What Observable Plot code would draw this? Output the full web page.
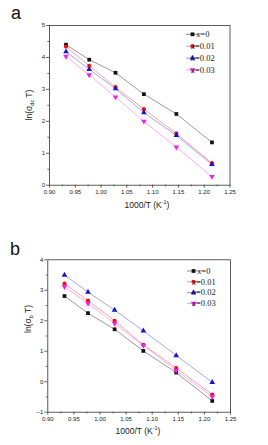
<!DOCTYPE html>
<html>
<head>
<meta charset="utf-8">
<script src="https://cdn.jsdelivr.net/npm/d3@7"></script>
<script src="https://cdn.jsdelivr.net/npm/@observablehq/plot@0.6"></script>
<style>
  html, body { margin: 0; padding: 0; background: #fff; }
  #page { position: relative; width: 268px; height: 445px; overflow: hidden; font-family: "Liberation Sans", Arial, sans-serif; }
  .panel { position: absolute; left: 0; }
  .tag { position: absolute; font-size: 18px; color: #111; line-height: 1; }
  .xtitle { position: absolute; font-size: 8.5px; color: #222; white-space: nowrap; transform: translateX(-50%); line-height: 1; }
  .ytitle { position: absolute; font-size: 8.5px; color: #222; white-space: nowrap; transform: translate(-50%, -50%) rotate(-90deg); line-height: 1; }
  sub, sup { font-size: 65%; line-height: 0; }
</style>
</head>
<body>
<div id="page"></div>
<script>
// 1000/T for T = 1073, 1023, 973, 923, 873, 823 K
const invT = [0.932, 0.977, 1.028, 1.083, 1.146, 1.215];
const series = ["x=0", "x=0.01", "x=0.02", "x=0.03"];

// (a) ln(σ_dc T)
const dcX0   = [4.40, 3.93, 3.52, 2.85, 2.23, 1.34];
const dcX001 = [4.34, 3.74, 3.07, 2.38, 1.62, 0.69];
const dcX002 = [4.18, 3.63, 3.02, 2.27, 1.56, 0.65];
const dcX003 = [4.03, 3.45, 2.76, 2.00, 1.19, 0.27];

// (b) ln(σ_b T)
const bX0   = [2.81, 2.25, 1.72, 1.01, 0.30, -0.63];
const bX001 = [3.22, 2.66, 2.00, 1.21, 0.45, -0.42];
const bX002 = [3.50, 2.94, 2.35, 1.67, 0.86, -0.02];
const bX003 = [3.12, 2.57, 1.91, 1.19, 0.37, -0.49];

const xTicks = [0.90, 0.95, 1.00, 1.05, 1.10, 1.15, 1.20, 1.25];
const xMinor = [0.925, 0.975, 1.025, 1.075, 1.125, 1.175, 1.225];
const yTicksA = [0, 1, 2, 3, 4, 5];
const yTicksB = [-1, 0, 1, 2, 3, 4];

const colors = ["#111111", "#ee1111", "#1515cc", "#ee22ee"];
const lineColors = ["#555555", "#f06a6a", "#6a6ae8", "#f07af0"];

// downward-pointing triangle symbol
const triangleDown = {
  draw(context, size) {
    const y = -Math.sqrt(size / (3 * Math.sqrt(3)));
    context.moveTo(0, -y * 2);
    context.lineTo(-Math.sqrt(3) * y, y);
    context.lineTo(Math.sqrt(3) * y, y);
    context.closePath();
  }
};
const symbols = [d3.symbolSquare, d3.symbolCircle, d3.symbolTriangle, triangleDown];

function rowsOf(valueSets) {
  return series.flatMap((s, i) => valueSets[i].map((v, j) => ({x: invT[j], y: v, s})));
}

function panel({rows, height, margins, yDomain, yTicks, yMinor}) {
  const svg = Plot.plot({
    width: 268,
    height,
    marginTop: margins[0], marginRight: margins[1], marginBottom: margins[2], marginLeft: margins[3],
    style: {fontFamily: "'Liberation Sans', Arial, sans-serif", fontSize: "6px", color: "#222", background: "transparent"},
    x: {domain: [0.9, 1.25]},
    y: {domain: yDomain},
    color: {domain: series, range: colors},
    marks: [
      Plot.axisX({ticks: xTicks, tickFormat: d3.format(".2f"), tickSize: 3, tickPadding: 1.5, label: null, strokeWidth: 0.7}),
      Plot.axisX({ticks: xMinor, tickFormat: () => "", tickSize: 1.6, label: null, strokeWidth: 0.7}),
      Plot.axisY({ticks: yTicks, tickFormat: d3.format("d"), tickSize: 3, tickPadding: 1.5, label: null, strokeWidth: 0.7}),
      Plot.axisY({ticks: yMinor, tickFormat: () => "", tickSize: 1.6, label: null, strokeWidth: 0.7}),
      Plot.line(rows, {x: "x", y: "y", z: "s", stroke: d => lineColors[series.indexOf(d.s)], strokeWidth: 0.6}),
      Plot.dot(rows, {x: "x", y: "y", fill: "s", stroke: "none", symbol: d => symbols[series.indexOf(d.s)], r: 2.1}),
      Plot.frame({stroke: "#333", strokeWidth: 0.8})
    ]
  });
  return svg;
}

function addLegend(svg, left, top, step) {
  const g = d3.select(svg).append("g").attr("class", "legend");
  series.forEach((s, i) => {
    const y = top + i * step;
    g.append("line").attr("x1", left).attr("x2", left + 13).attr("y1", y).attr("y2", y)
      .attr("stroke", lineColors[i]).attr("stroke-width", 0.7);
    g.append("path").attr("transform", `translate(${left + 6.5},${y})`)
      .attr("d", d3.symbol(symbols[i], 14)()).attr("fill", colors[i]);
    const t = g.append("text").attr("x", left + 17).attr("y", y).attr("dy", "0.33em")
      .attr("font-family", "'Liberation Serif', 'Times New Roman', serif").attr("font-size", 8.5).attr("fill", "#222");
    t.append("tspan").attr("font-style", "italic").text("x");
    t.append("tspan").text(s.slice(1));
  });
}

const page = document.getElementById("page");

// panel (a)
const svgA = panel({
  rows: rowsOf([dcX0, dcX001, dcX002, dcX003]),
  height: 220, margins: [25, 38.5, 35.3, 49],
  yDomain: [0, 5], yTicks: yTicksA, yMinor: [0.5, 1.5, 2.5, 3.5, 4.5]
});
addLegend(svgA, 186, 34.3, 11.9);
const wrapA = document.createElement("div");
wrapA.className = "panel"; wrapA.style.top = "0px";
wrapA.appendChild(svgA);
page.appendChild(wrapA);

// panel (b)
const svgB = panel({
  rows: rowsOf([bX0, bX001, bX002, bX003]),
  height: 225, margins: [39.3, 38, 33.3, 47.3],
  yDomain: [-1, 4], yTicks: yTicksB, yMinor: [-0.5, 0.5, 1.5, 2.5, 3.5]
});
addLegend(svgB, 187, 51, 10.8);
const wrapB = document.createElement("div");
wrapB.className = "panel"; wrapB.style.top = "220px";
wrapB.appendChild(svgB);
page.appendChild(wrapB);

// panel tags and axis titles
page.insertAdjacentHTML("beforeend", `
  <div class="tag" style="left:11px; top:4px;">a</div>
  <div class="xtitle" style="left:147px; top:201px;">1000/T (K<sup>-1</sup>)</div>
  <div class="ytitle" style="left:29px; top:105px;">ln(σ<sub>dc</sub> T)</div>
  <div class="tag" style="left:10px; top:240px;">b</div>
  <div class="xtitle" style="left:138px; top:427px;">1000/T (K<sup>-1</sup>)</div>
  <div class="ytitle" style="left:28px; top:319px;">ln(σ<sub>b</sub> T)</div>
`);
</script>
</body>
</html>
